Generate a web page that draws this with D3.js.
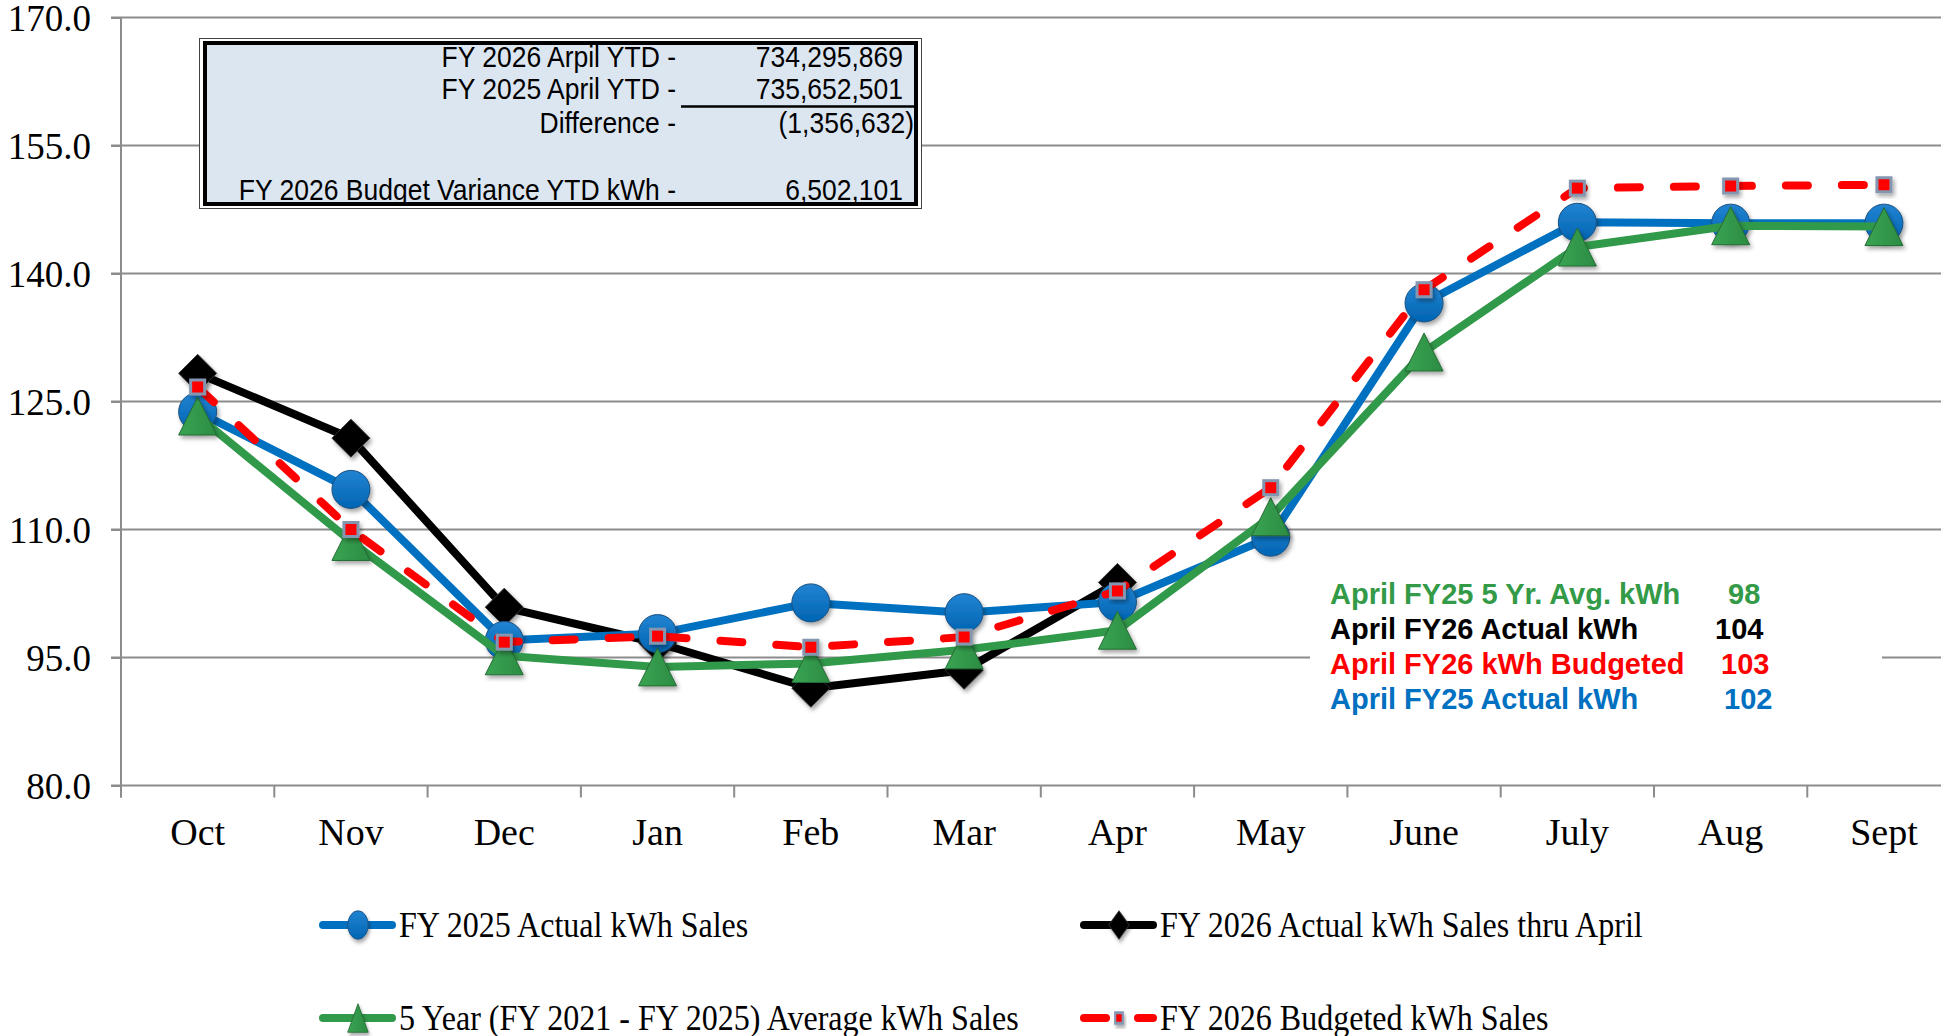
<!DOCTYPE html>
<html>
<head>
<meta charset="utf-8">
<script src="https://cdn.jsdelivr.net/npm/d3@7"></script>
<style>
  html, body { margin: 0; padding: 0; background: #fff; }
  svg { display: block; }
</style>
</head>
<body>
<div id="chart"></div>
<script>
// data
var months = ['Oct', 'Nov', 'Dec', 'Jan', 'Feb', 'Mar', 'Apr', 'May', 'June', 'July', 'Aug', 'Sept'];
var fy2025Actual = [123.8, 114.7, 97.0, 97.8, 101.4, 100.25, 101.5, 109.1, 136.55, 146.0, 145.9, 145.9];
var fy2026Actual = [128.3, 120.7, 100.9, 96.7, 91.4, 93.5, 103.8];
var fiveYearAvg = [123.3, 108.6, 95.2, 93.9, 94.3, 95.9, 98.2, 111.5, 130.8, 143.1, 145.6, 145.5];
var fy2026Budget = [126.7, 110.0, 96.8, 97.5, 96.2, 97.4, 102.8, 114.9, 138.1, 150.0, 150.25, 150.4];
var yTicks = [80, 95, 110, 125, 140, 155, 170];

var ytdLabels = ['FY 2026 Arpil YTD -', 'FY 2025 April YTD -', 'Difference -', '', 'FY 2026 Budget Variance YTD kWh -'];
var ytdValues = ['734,295,869', '735,652,501', '(1,356,632)', '', '6,502,101'];
var aprilLabels = ['April FY25 5 Yr. Avg. kWh', 'April FY26 Actual kWh', 'April FY26 kWh Budgeted', 'April FY25 Actual kWh'];
var aprilValues = ['98', '104', '103', '102'];

var width = 1941,
    height = 1036,
    serif = '"Liberation Serif", "Times New Roman", serif',
    sans = '"Liberation Sans", Arial, sans-serif',
    gridColor = '#8c8c8c';

var svg = d3.select('#chart').append('svg')
    .attr('width', width)
    .attr('height', height);

// defs: shadow + marker gradients
var defs = svg.append('defs');
var shadow = defs.append('filter').attr('id', 'shadow')
    .attr('x', '-50%').attr('y', '-50%').attr('width', '200%').attr('height', '200%');
shadow.append('feDropShadow')
    .attr('dx', 2).attr('dy', 3).attr('stdDeviation', 2)
    .attr('flood-color', '#000').attr('flood-opacity', 0.35);

var gBlue = defs.append('linearGradient').attr('id', 'gBlue').attr('x1', 0).attr('y1', 0).attr('x2', 0).attr('y2', 1);
gBlue.append('stop').attr('offset', '0%').attr('stop-color', '#2284d2');
gBlue.append('stop').attr('offset', '100%').attr('stop-color', '#0065b3');
var gGreen = defs.append('linearGradient').attr('id', 'gGreen').attr('x1', 0).attr('y1', 0).attr('x2', 1).attr('y2', 0);
gGreen.append('stop').attr('offset', '0%').attr('stop-color', '#3aa453');
gGreen.append('stop').attr('offset', '100%').attr('stop-color', '#2b8c42');

// scales
var step = 153.3;
var x = d3.scaleBand().domain(months).range([121, 121 + months.length * step]).padding(0);
var y = d3.scaleLinear().domain([80, 170]).range([785.5, 17.5]);
var cx = function(i) { return x(months[i]) + x.bandwidth() / 2; };

// gridlines
svg.append('g').attr('class', 'grid')
    .selectAll('line').data(yTicks).enter().append('line')
    .attr('x1', 111).attr('x2', width)
    .attr('y1', function(d) { return y(d); })
    .attr('y2', function(d) { return y(d); })
    .attr('stroke', gridColor).attr('stroke-width', 2);

// y axis
var yAxis = d3.axisLeft(y).tickValues(yTicks).tickSize(10).tickSizeOuter(0)
    .tickPadding(20).tickFormat(d3.format('.1f'));
var gy = svg.append('g').attr('transform', 'translate(121,0)').call(yAxis);
gy.select('.domain').remove();
gy.selectAll('line').attr('stroke', gridColor).attr('stroke-width', 2);
gy.selectAll('text').attr('font-family', serif).attr('font-size', 37).attr('fill', '#000').attr('dy', '0.34em');

svg.append('line')
    .attr('x1', 121).attr('x2', 121).attr('y1', y(170)).attr('y2', y(80) + 12)
    .attr('stroke', gridColor).attr('stroke-width', 2);

// x axis: ticks on category boundaries
var bounds = months.map(function(m) { return x(m); }).concat([x.range()[1]]);
svg.append('g').selectAll('line').data(bounds).enter().append('line')
    .attr('x1', function(d) { return d; }).attr('x2', function(d) { return d; })
    .attr('y1', y(80)).attr('y2', y(80) + 12)
    .attr('stroke', gridColor).attr('stroke-width', 2);

var xAxis = d3.axisBottom(x).tickSize(0);
var gx = svg.append('g').attr('transform', 'translate(0,' + y(80) + ')').call(xAxis);
gx.select('.domain').remove();
gx.selectAll('text')
    .attr('font-family', serif).attr('font-size', 38).attr('fill', '#000')
    .attr('y', 59).attr('dy', 0);

// YTD info box
var box = svg.append('g');
box.append('rect').attr('x', 199.5).attr('y', 38.5).attr('width', 722).attr('height', 170)
    .attr('fill', '#fff').attr('stroke', '#444').attr('stroke-width', 1);
box.append('rect').attr('x', 205).attr('y', 43).attr('width', 711).attr('height', 161)
    .attr('fill', '#dce6f1').attr('stroke', '#000').attr('stroke-width', 4);
var rowY = [67, 99, 132.5, 165, 199.5];
box.selectAll('text.lab').data(ytdLabels).enter().append('text')
    .attr('class', 'lab')
    .attr('transform', function(d, i) { return 'translate(676,' + rowY[i] + ') scale(0.92,1)'; })
    .attr('text-anchor', 'end').attr('font-family', sans).attr('font-size', 28.8)
    .text(function(d) { return d; });
box.selectAll('text.val').data(ytdValues).enter().append('text')
    .attr('class', 'val')
    .attr('transform', function(d, i) {
        return 'translate(' + (d.charAt(0) === '(' ? 914 : 903) + ',' + rowY[i] + ') scale(0.92,1)';
    })
    .attr('text-anchor', 'end').attr('font-family', sans).attr('font-size', 28.8)
    .text(function(d) { return d; });
box.append('line').attr('x1', 681).attr('x2', 916).attr('y1', 106.5).attr('y2', 106.5)
    .attr('stroke', '#000').attr('stroke-width', 2.5);

// April annotation
var aprilColors = ['#339a47', '#000000', '#ff0000', '#0070c0'];
var aprilValX = [1728, 1715, 1721, 1724];
var aprilY = [604, 639, 674, 709];
var note = svg.append('g');
note.append('rect').attr('x', 1310).attr('y', 574).attr('width', 572).attr('height', 146).attr('fill', '#fff');
note.selectAll('text.lab').data(aprilLabels).enter().append('text')
    .attr('class', 'lab')
    .attr('x', 1330).attr('y', function(d, i) { return aprilY[i]; })
    .attr('font-family', sans).attr('font-size', 29).attr('font-weight', 'bold')
    .attr('fill', function(d, i) { return aprilColors[i]; })
    .text(function(d) { return d; });
note.selectAll('text.val').data(aprilValues).enter().append('text')
    .attr('class', 'val')
    .attr('x', function(d, i) { return aprilValX[i]; }).attr('y', function(d, i) { return aprilY[i]; })
    .attr('font-family', sans).attr('font-size', 29).attr('font-weight', 'bold')
    .attr('fill', function(d, i) { return aprilColors[i]; })
    .text(function(d) { return d; });

// marker shapes
function drawMarker(g, type, px, py, s) {
    s = s || 1;
    var m;
    if (type === 'circle') {
        m = g.append('circle').attr('cx', px).attr('cy', py).attr('r', 19 * s)
            .attr('fill', 'url(#gBlue)').attr('stroke', '#1a4f80').attr('stroke-width', 1);
    } else if (type === 'diamond') {
        var h = 19 * s;
        m = g.append('path')
            .attr('d', 'M' + px + ',' + (py - h) + 'L' + (px + h) + ',' + py + 'L' + px + ',' + (py + h) + 'L' + (px - h) + ',' + py + 'Z')
            .attr('fill', '#000').attr('stroke', '#333').attr('stroke-width', 1);
    } else if (type === 'triangle') {
        var w = 19 * s, t = 19 * s;
        m = g.append('path')
            .attr('d', 'M' + px + ',' + (py - t) + 'L' + (px + w) + ',' + (py + t) + 'L' + (px - w) + ',' + (py + t) + 'Z')
            .attr('fill', 'url(#gGreen)').attr('stroke', '#256b35').attr('stroke-width', 1);
    } else {
        var q = 7 * s;
        m = g.append('rect').attr('x', px - q).attr('y', py - q).attr('width', 2 * q).attr('height', 2 * q)
            .attr('fill', '#ff0000').attr('stroke', '#8496b0').attr('stroke-width', 3);
    }
    m.attr('filter', 'url(#shadow)');
    return m;
}

var series = [
    {name: 'FY 2026 Actual kWh Sales thru April', values: fy2026Actual, color: '#000000', marker: 'diamond', dash: null},
    {name: 'FY 2025 Actual kWh Sales', values: fy2025Actual, color: '#0070c0', marker: 'circle', dash: null},
    {name: '5 Year (FY 2021 - FY 2025) Average kWh Sales', values: fiveYearAvg, color: '#31994a', marker: 'triangle', dash: null},
    {name: 'FY 2026 Budgeted kWh Sales', values: fy2026Budget, color: '#ff0000', marker: 'square', dash: '22,34'}
];

var line = d3.line()
    .x(function(d, i) { return cx(i); })
    .y(function(d) { return y(d); });

series.forEach(function(s) {
    var g = svg.append('g');
    g.append('path').datum(s.values)
        .attr('d', line)
        .attr('fill', 'none')
        .attr('stroke', s.color)
        .attr('stroke-width', 8)
        .attr('stroke-linejoin', 'round')
        .attr('stroke-linecap', 'round')
        .attr('stroke-dasharray', s.dash);
    s.values.forEach(function(v, i) {
        drawMarker(g, s.marker, cx(i), y(v));
    });
});

// legend
var legendItems = [
    {s: series[1], lx: 319, ly: 925},
    {s: series[0], lx: 1080, ly: 925},
    {s: series[2], lx: 319, ly: 1018},
    {s: series[3], lx: 1080, ly: 1018}
];
legendItems.forEach(function(it) {
    var g = svg.append('g');
    var mid = it.lx + 39;
    if (it.s.dash) {
        [[it.lx + 4, it.lx + 26], [it.lx + 58, it.lx + 73]].forEach(function(seg) {
            g.append('line').attr('x1', seg[0]).attr('x2', seg[1]).attr('y1', it.ly).attr('y2', it.ly)
                .attr('stroke', it.s.color).attr('stroke-width', 8).attr('stroke-linecap', 'round');
        });
    } else {
        g.append('line').attr('x1', it.lx + 4).attr('x2', it.lx + 73).attr('y1', it.ly).attr('y2', it.ly)
            .attr('stroke', it.s.color).attr('stroke-width', 8).attr('stroke-linecap', 'round');
    }
    var mg = g.append('g').attr('transform', 'translate(' + mid + ',' + it.ly + ') scale(0.72,1)');
    drawMarker(mg, it.s.marker, 0, 0, 0.75);
    g.append('text')
        .attr('transform', 'translate(' + (it.lx + 80) + ',' + (it.ly + 12) + ') scale(0.89,1)')
        .attr('font-family', serif).attr('font-size', 36)
        .text(it.s.name);
});
</script>
</body>
</html>
